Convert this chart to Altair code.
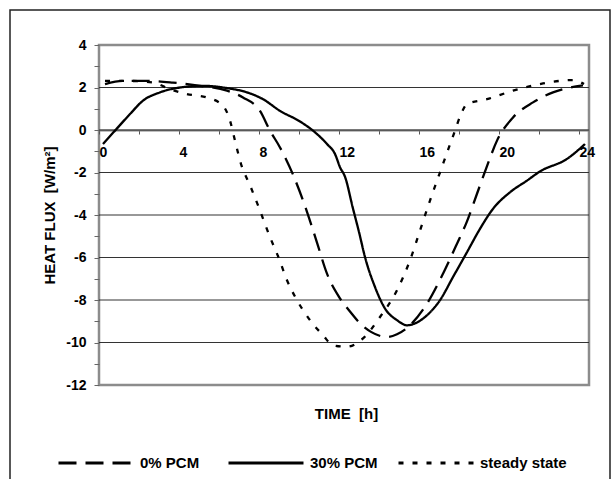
import altair as alt
import pandas as pd

# Heat flux through the wall over one day, three configurations
series_names = ["0% PCM", "30% PCM", "steady state"]

t_0pcm = [0.3, 1.2, 2.4, 3.7, 5.05, 6.4, 7.2, 8.05, 8.55, 9.05, 9.7, 10.4, 10.9,
          11.4, 12.0, 12.6, 13.05, 13.6, 14.4, 14.9, 15.55, 16.4, 17.2, 17.9,
          18.4, 18.9, 19.4, 19.9, 20.7, 21.7, 22.7, 23.55, 24.2]
q_0pcm = [2.16, 2.31, 2.31, 2.23, 2.08, 1.85, 1.53, 0.9, -0.03, -0.82, -2.1,
          -3.85, -5.3, -6.76, -7.85, -8.6, -9.1, -9.5, -9.74, -9.61, -9.19,
          -8.17, -6.76, -5.35, -4.3, -3.0, -1.7, -0.5, 0.59, 1.3, 1.77, 2.0, 2.1]

t_30pcm = [0.2, 0.8, 1.55, 2.2, 3.05, 4.05, 5.2, 6.4, 7.4, 8.2, 9.05, 10.05,
           10.7, 11.4, 11.8, 12.05, 12.3, 12.7, 13.0, 13.3, 13.8, 14.3, 14.9,
           15.4, 15.8, 16.4, 17.05, 17.7, 18.4, 19.05, 19.7, 20.55, 21.4, 22.05,
           23.4, 24.3]
q_30pcm = [-0.66, -0.03, 0.75, 1.38, 1.77, 2.0, 2.08, 1.97, 1.77, 1.45, 0.9,
           0.4, -0.03, -0.66, -1.13, -1.75, -2.2, -3.7, -4.8, -5.98, -7.39,
           -8.4, -8.95, -9.19, -9.1, -8.72, -8.01, -6.92, -5.75, -4.65, -3.71,
           -2.93, -2.38, -1.95, -1.36, -0.66]

t_steady = [0.3, 1.4, 2.7, 3.55, 4.4, 5.4, 6.2, 6.55, 6.8, 7.1, 7.55, 8.05,
            8.55, 8.97, 9.4, 9.9, 10.55, 11.2, 11.7, 12.4, 13.2, 14.05, 14.9,
            15.55, 16.05, 16.55, 17.2, 17.8, 18.1, 18.4, 19.4, 20.7, 22.2, 23.7,
            24.25]
q_steady = [2.31, 2.31, 2.23, 1.92, 1.69, 1.53, 1.14, 0.44, -0.5, -1.6, -2.6,
            -3.79, -5.04, -5.98, -7.07, -8.01, -8.95, -9.66, -10.13, -10.2,
            -9.81, -8.8, -7.54, -6.13, -4.73, -3.32, -1.6, -0.03, 0.75, 1.22,
            1.45, 1.85, 2.19, 2.35, 2.16]

grid_levels = [2, 0, -2, -4, -6, -8, -10]
x_ticks = list(range(0, 25, 2))
y_ticks = list(range(-12, 5))

frames = []
for name, t, q in zip(series_names,
                      [t_0pcm, t_30pcm, t_steady],
                      [q_0pcm, q_30pcm, q_steady]):
    frames.append(pd.DataFrame({"time": t, "flux": q, "series": name}))
curves = pd.concat(frames, ignore_index=True)

FONT = "Liberation Sans"
W, H = 490, 340

x_scale = alt.Scale(domain=[0, 24.5], nice=False, zero=False)
y_scale = alt.Scale(domain=[-12, 4], nice=False, zero=False)

y_axis = alt.Axis(
    values=y_ticks,
    labelExpr="datum.value % 2 == 0 ? '' + datum.value : ''",
    grid=False, domain=False, tickColor="#666666", tickSize=5,
    tickWidth=1, labelPadding=8, labelFlush=False, labelOverlap=False,
    labelFont=FONT, labelFontSize=14, labelFontWeight="bold",
    labelColor="black",
    title="HEAT FLUX\u00a0 [W/m²]", titleX=-50, titleY=170, titleAngle=270,
    titleAlign="center", titleBaseline="middle", titleFont=FONT,
    titleFontSize=15, titleFontWeight="bold", titleColor="black",
)

x_axis = alt.Axis(
    orient="bottom", offset=-255, values=x_ticks,
    labelExpr="datum.value % 4 == 0 ? '' + datum.value : ''",
    grid=False, domainColor="#808080", domainWidth=2,
    tickColor="#555555", tickSize=4, tickWidth=1,
    labelAlign="left", labelPadding=11, labelFlush=False,
    labelOverlap=False, labelFont=FONT, labelFontSize=14,
    labelFontWeight="bold", labelColor="black",
    title="TIME\u00a0 [h]", titleX=247, titleY=283, titleAlign="center",
    titleBaseline="middle", titleFont=FONT, titleFontSize=15,
    titleFontWeight="bold", titleColor="black",
)

# outer chart border
frame = alt.Chart(pd.DataFrame({"k": [0]})).mark_rect(
    fill="transparent", stroke="#222222", strokeWidth=1.5, clip=False
).encode(
    x=alt.value(-89), x2=alt.value(511), y=alt.value(-35), y2=alt.value(445)
)

grid = alt.Chart(pd.DataFrame({"level": grid_levels})).mark_rule(
    color="#333333", strokeWidth=1.2
).encode(
    y=alt.Y("level:Q", scale=y_scale, axis=y_axis)
)

lines = alt.Chart(curves).mark_line(
    color="black", strokeWidth=2.3, interpolate="monotone", strokeCap="butt"
).encode(
    x=alt.X("time:Q", scale=x_scale, axis=x_axis),
    y=alt.Y("flux:Q", scale=y_scale, axis=y_axis),
    strokeDash=alt.StrokeDash(
        "series:N",
        scale=alt.Scale(domain=series_names, range=[[18, 9], [1, 0], [5, 9]]),
        legend=alt.Legend(
            title=None, orient="none", legendX=-42, legendY=379,
            direction="horizontal", columns=3, gridAlign="all",
            columnPadding=-10, symbolType="stroke", symbolSize=5625,
            symbolStrokeWidth=2.8, symbolStrokeColor="black",
            labelFont=FONT, labelFontSize=15, labelFontWeight="bold",
            labelColor="black", labelOffset=5, labelLimit=300,
        ),
    ),
)

chart = alt.layer(frame, grid, lines).properties(
    width=W, height=H,
    autosize=alt.AutoSizeParams(type="none"),
    padding={"left": 99, "top": 45, "right": 23, "bottom": 94},
    background="white",
).configure_view(stroke="#8c8c8c", strokeWidth=2.5)

chart.save("out.html", embed_options={"renderer": "svg", "actions": False})
